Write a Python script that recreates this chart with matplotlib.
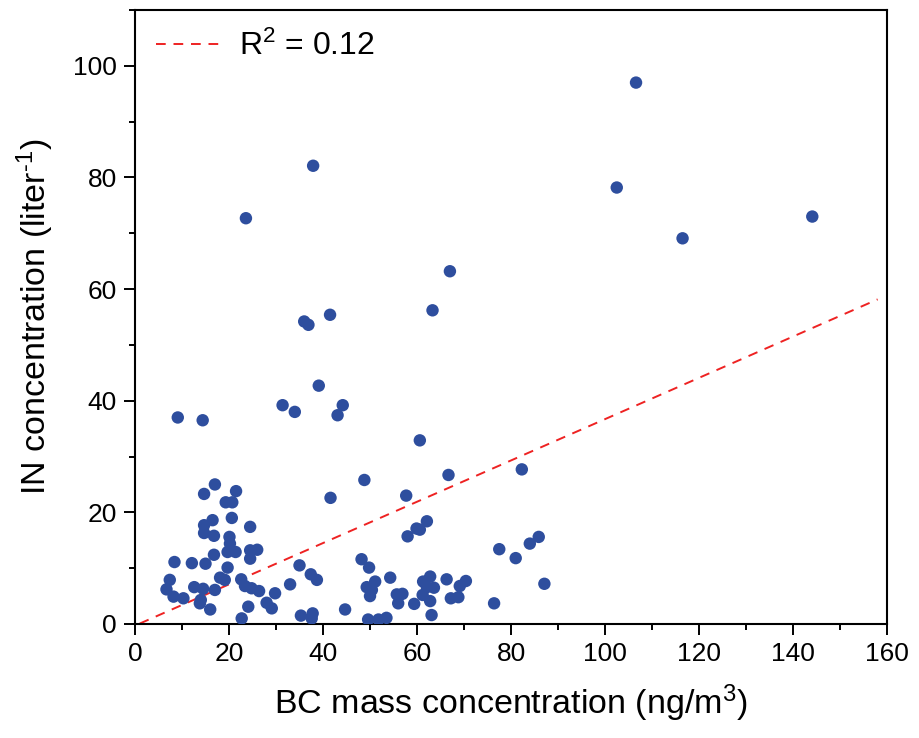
import matplotlib
matplotlib.use("Agg")
import matplotlib.pyplot as plt
from matplotlib.ticker import MultipleLocator

plt.rcParams['font.family'] = ['Liberation Sans', 'DejaVu Sans']
plt.rcParams['mathtext.fontset'] = 'custom'
plt.rcParams['mathtext.rm'] = 'Liberation Sans'
plt.rcParams['mathtext.it'] = 'Liberation Sans:italic'

# BC mass concentration (ng/m3) og IN concentration (liter^-1), lest av figuren
bc = [17.0, 14.7, 21.5, 19.3, 20.7, 20.6, 16.5, 14.7, 24.5, 14.7, 16.8, 20.1,
      20.2, 19.7, 21.4, 24.5, 26.0, 24.5, 16.8, 8.4, 12.1, 15.0, 19.7, 7.4,
      18.1, 19.1, 22.6, 6.7, 12.6, 14.5, 17.0, 23.4, 24.8, 26.4, 29.8, 8.2,
      10.3, 14.0, 13.8, 28.0, 29.1, 16.0, 24.1, 22.7,
      48.8, 41.6, 66.7, 57.7, 62.1, 59.9, 60.6, 58.0, 48.2, 49.8, 35.0, 37.4,
      38.7, 33.0, 54.3, 51.1, 49.3, 50.4, 50.0, 55.7, 56.9, 56.0, 59.4, 61.3,
      62.8, 62.1, 63.6, 61.2, 62.8, 63.1, 66.3, 67.2, 68.8, 69.1, 44.7, 35.3,
      37.8, 37.6, 49.6, 51.8, 53.5,
      82.3, 77.5, 81.0, 84.0, 85.9, 70.4, 87.1, 76.4,
      9.1, 14.4, 31.4, 34.0, 39.1, 44.2, 43.1, 36.0, 36.9, 41.5, 63.3, 60.6,
      106.6, 102.5, 116.5, 144.1, 37.9, 23.6, 67.0]
inp = [25.0, 23.3, 23.8, 21.8, 21.8, 19.0, 18.6, 17.7, 17.4, 16.3, 15.8, 15.6,
       14.4, 12.9, 12.9, 13.2, 13.3, 11.7, 12.4, 11.1, 10.9, 10.8, 10.1, 7.9,
       8.3, 7.9, 8.0, 6.2, 6.6, 6.3, 6.1, 6.8, 6.4, 5.9, 5.5, 4.9,
       4.6, 4.3, 3.7, 3.8, 2.8, 2.6, 3.1, 1.0,
       25.8, 22.6, 26.7, 23.0, 18.4, 17.1, 16.9, 15.7, 11.6, 10.1, 10.5, 8.9,
       7.9, 7.1, 8.3, 7.6, 6.6, 6.1, 5.0, 5.3, 5.4, 3.7, 3.6, 7.6,
       8.5, 6.6, 6.5, 5.2, 4.1, 1.6, 8.0, 4.6, 4.8, 6.8, 2.6, 1.5,
       1.9, 1.0, 0.8, 0.8, 1.1,
       27.7, 13.4, 11.8, 14.4, 15.6, 7.7, 7.2, 3.7,
       37.0, 36.5, 39.2, 38.0, 42.7, 39.2, 37.4, 54.2, 53.6, 55.4, 56.2, 32.9,
       97.0, 78.2, 69.1, 73.0, 82.1, 72.7, 63.2]

# lineær tilpasning
slope = 0.37
intercept = -0.3
fit_x = [1.0, 158.0]

fig = plt.figure(figsize=(9.19, 7.38), dpi=100)
ax = fig.add_axes([0.1469, 0.1545, 0.8183, 0.8319])

ax.scatter(bc, inp, s=80, color='#2E4E9E', edgecolors='none', zorder=3)
ax.plot(fit_x, [slope * x + intercept for x in fit_x], '--', color='#EE2222',
        lw=1.4, dashes=(5, 4), label='R$^{\\mathregular{2}}$ = 0.12', zorder=2)

ax.set_xlim(0, 160)
ax.set_ylim(0, 110)
ax.xaxis.set_major_locator(MultipleLocator(20))
ax.xaxis.set_minor_locator(MultipleLocator(10))
ax.yaxis.set_major_locator(MultipleLocator(20))
ax.yaxis.set_minor_locator(MultipleLocator(10))
ax.set_yticks([0, 20, 40, 60, 80, 100])
ax.tick_params(which='major', direction='out', length=8, width=1.4,
               labelsize=19, pad=5)
ax.tick_params(which='minor', direction='out', length=4, width=1.4)
for sp in ax.spines.values():
    sp.set_linewidth(1.5)

ax.set_xlabel('BC mass concentration (ng/m$^3$)', fontsize=24.5, labelpad=12)
ax.set_ylabel('IN concentration (liter$^{\\text{-1}}$)', fontsize=24.5, labelpad=12)

ax.legend(loc='upper left', frameon=False, fontsize=23, handlelength=2.2,
          handletextpad=0.4, borderaxespad=0.25)

fig.savefig('out.png', dpi=100)
